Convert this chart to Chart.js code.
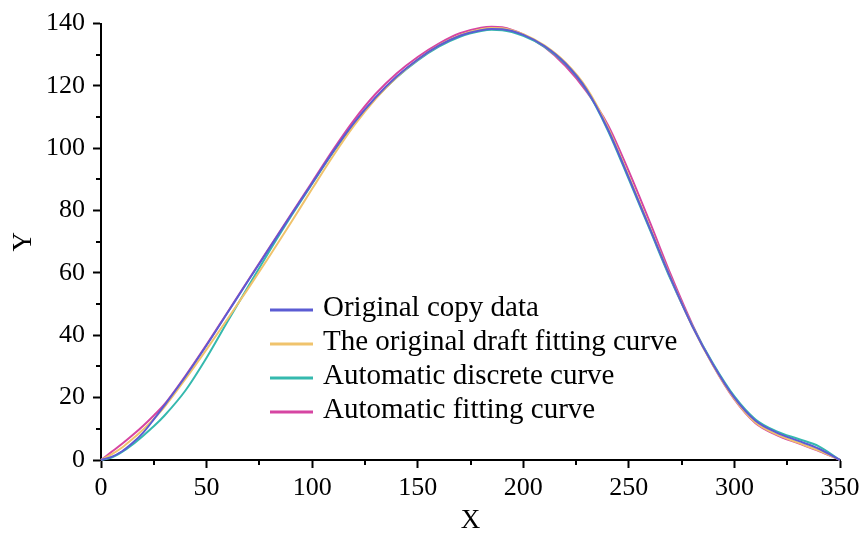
<!DOCTYPE html>
<html><head><meta charset="utf-8">
<script src="https://cdn.jsdelivr.net/npm/chart.js@4.4.1/dist/chart.umd.min.js"></script>
<style>html,body{margin:0;padding:0;background:#fff}</style>
</head><body>
<canvas id="c" width="867" height="537"></canvas>
<script>
// ---- data ----
const xValues = [0,5,10,15,20,25,30,40,50,60,70,80,90,100,110,120,130,140,150,160,170,180,185,190,200,210,220,230,240,250,260,270,280,290,300,310,320,330,340,350];

const originalCopyData = [0,1.0,2.8,5.5,8.8,13.0,17.5,26.8,36.8,47.3,57.8,68.2,78.6,88.8,99.0,108.3,116.3,123.0,128.5,132.9,136.1,137.9,138.3,138.2,136.4,132.8,127.2,118.8,106.2,90.5,74.2,58.0,43.0,30.5,20.0,12.6,8.8,6.2,3.6,0];

const draftFittingCurve = [0,1.8,4.0,6.8,9.8,13.2,17.0,26.0,35.5,45.3,55.3,65.6,76.2,87.0,97.6,107.4,115.8,122.8,128.5,133.0,136.3,138.2,138.6,138.5,136.6,133.0,127.5,119.3,106.8,91.0,74.6,58.2,43.0,30.2,19.6,12.0,8.2,5.6,3.0,0];

const automaticDiscreteCurve = [0,0.8,2.6,5.0,7.8,10.8,14.2,22.3,32.8,44.5,56.0,67.3,78.2,88.6,98.8,108.0,116.0,122.7,128.2,132.6,135.8,137.6,138.0,137.9,136.1,132.6,127.0,118.6,105.8,90.0,73.8,57.6,43.2,30.8,20.4,13.0,9.2,6.8,4.4,0];

const automaticFittingCurve = [0,2.6,5.2,8.0,11.0,14.3,17.8,27.0,37.0,47.5,58.0,68.4,78.8,89.2,99.6,109.2,117.4,124.0,129.3,133.6,136.9,138.7,139.0,138.8,136.5,132.5,126.4,118.2,107.6,92.6,76.2,59.2,43.6,30.2,19.4,11.8,8.0,5.4,2.9,0];

const seriesLabels = ['Original copy data','The original draft fitting curve','Automatic discrete curve','Automatic fitting curve'];
const seriesColors = ['#5b5cd3','#f0c36c','#35b9ae','#d645a2'];

const xMajorTicks = [0,50,100,150,200,250,300,350];
const xMinorTicks = [25,75,125,175,225,275,325];
const yMajorTicks = [0,20,40,60,80,100,120,140];
const yMinorTicks = [10,30,50,70,90,110,130];

const FONT = '"Liberation Serif","Times New Roman",serif';

const seriesData = [originalCopyData, draftFittingCurve, automaticDiscreteCurve, automaticFittingCurve];
const datasets = seriesData.map((arr, i) => ({
  label: seriesLabels[i],
  data: arr.map((y, k) => ({x: xValues[k], y})),
  borderColor: seriesColors[i],
  backgroundColor: seriesColors[i],
  borderWidth: 2,
  pointRadius: 0,
  fill: false,
  cubicInterpolationMode: 'monotone',
  clip: 6
}));

const minorTickPlugin = {
  id: 'minorTickPlugin',
  afterDraw(chart) {
    const ctx = chart.ctx, xs = chart.scales.x, ys = chart.scales.y, ca = chart.chartArea;
    ctx.save();
    ctx.strokeStyle = '#000';
    ctx.lineWidth = 2;
    ctx.beginPath();
    for (const v of xMinorTicks) {
      const px = Math.round(xs.getPixelForValue(v));
      ctx.moveTo(px, ca.bottom); ctx.lineTo(px, ca.bottom + 5);
    }
    for (const v of yMinorTicks) {
      const py = Math.round(ys.getPixelForValue(v));
      ctx.moveTo(ca.left, py); ctx.lineTo(ca.left - 5, py);
    }
    ctx.stroke();
    ctx.restore();
  }
};

const insideLegendPlugin = {
  id: 'insideLegendPlugin',
  afterDatasetsDraw(chart, args, opts) {
    const ctx = chart.ctx;
    ctx.save();
    ctx.font = opts.fontSize + 'px ' + FONT;
    ctx.textBaseline = 'middle';
    ctx.textAlign = 'left';
    chart.data.datasets.forEach((ds, i) => {
      const y = opts.y0 + i * opts.rowGap;
      ctx.strokeStyle = ds.borderColor;
      ctx.lineWidth = 3;
      ctx.beginPath();
      ctx.moveTo(opts.x0, y); ctx.lineTo(opts.x0 + opts.lineLen, y);
      ctx.stroke();
      ctx.fillStyle = '#000';
      ctx.fillText(ds.label, opts.x0 + opts.lineLen + opts.gap, y - 2);
    });
    ctx.restore();
  }
};

new Chart(document.getElementById('c'), {
  type: 'line',
  data: { datasets },
  options: {
    responsive: false,
    animation: false,
    devicePixelRatio: 1,
    layout: { padding: { left: 0, right: 27, top: 20, bottom: 0 } },
    plugins: {
      legend: { display: false },
      tooltip: { enabled: false },
      insideLegendPlugin: { x0: 270, y0: 310, rowGap: 34, lineLen: 43, gap: 10, fontSize: 29 }
    },
    scales: {
      x: {
        type: 'linear', min: 0, max: 350,
        afterBuildTicks: s => { s.ticks = xMajorTicks.map(v => ({value: v})); },
        afterFit: s => { s.height = 77; },
        ticks: { color: '#000', font: { family: FONT, size: 26 }, padding: 5, maxRotation: 0 },
        grid: { drawOnChartArea: false, drawTicks: true, tickLength: 8, tickWidth: 2, tickColor: '#000' },
        border: { display: true, color: '#000', width: 2 },
        title: { display: true, text: 'X', color: '#000', font: { family: FONT, size: 27 }, padding: { top: 0, bottom: 0 } }
      },
      y: {
        type: 'linear', min: 0, max: 140,
        afterBuildTicks: s => { s.ticks = yMajorTicks.map(v => ({value: v})); },
        afterFit: s => { s.width = 101; },
        ticks: { color: '#000', font: { family: FONT, size: 26 }, padding: 8 },
        grid: { drawOnChartArea: false, drawTicks: true, tickLength: 8, tickWidth: 2, tickColor: '#000' },
        border: { display: true, color: '#000', width: 2 },
        title: { display: true, text: 'Y', color: '#000', font: { family: FONT, size: 27 }, padding: { top: 8, bottom: 0 } }
      }
    }
  },
  plugins: [minorTickPlugin, insideLegendPlugin]
});
</script>
</body></html>
